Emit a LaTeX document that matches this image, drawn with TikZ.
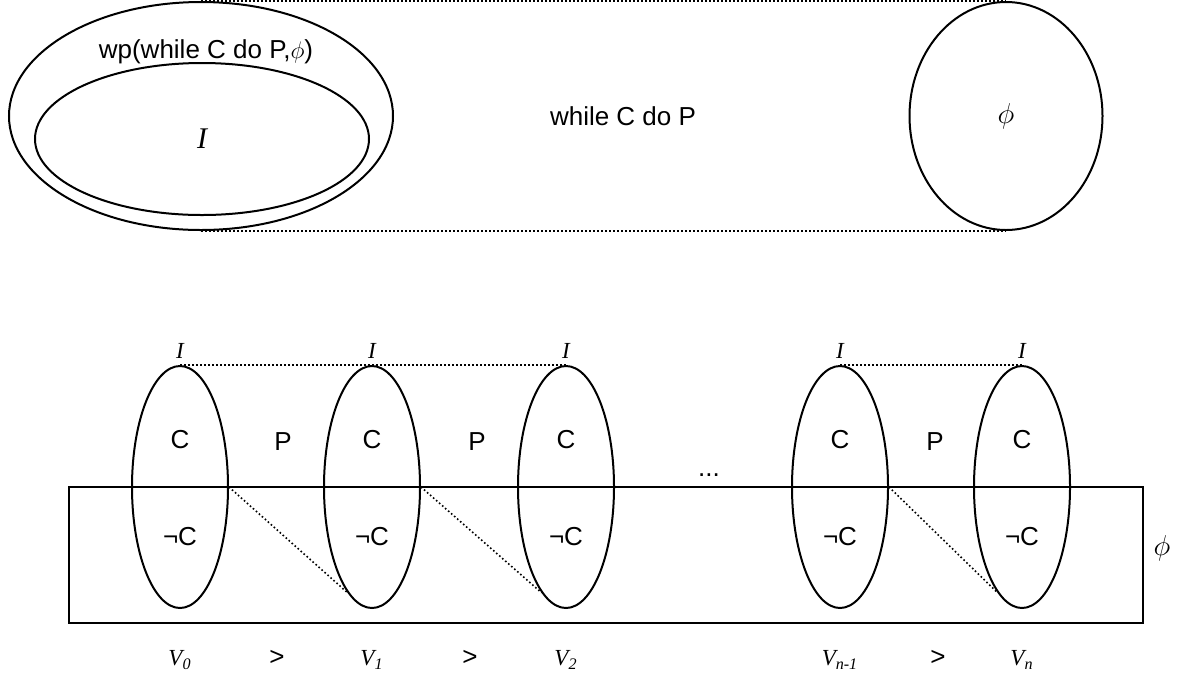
\documentclass[tikz,border=0pt]{standalone}
\usepackage{fontspec}
\setmainfont{Liberation Sans}
\newfontfamily\tms{Liberation Serif}
\usetikzlibrary{shapes.geometric,positioning}

\begin{document}
\begin{tikzpicture}[x=0.5pt,y=-0.5pt,
        conj/.style={draw,ellipse,line width=1pt,inner sep=0pt},
        pont/.style={line width=0.8pt,dash pattern=on 0.8pt off 1.2pt},
        rot/.style={font=\fontsize{13}{15}\selectfont,inner sep=0pt},
        var/.style={font=\fontsize{11.5}{14}\selectfont\tms\itshape,inner sep=0pt},
        simb/.style={font=\fontsize{14}{16}\selectfont,inner sep=0pt}]
      \useasboundingbox (0,0) rectangle (1177,676);
      % parte de cima
      \node[conj,minimum width=192pt,minimum height=114pt] (wp) at (201,116) {};
      \node[conj,minimum width=167pt,minimum height=76pt] (inv) at (202,139) {};
      \node[conj,minimum width=96.5pt,minimum height=114pt] (fi) at (1006,116) {};
      \draw[pont] (wp.north)--(fi.north); \draw[pont] (wp.south)--(fi.south);
      \node[rot] (twp) at (206,52) {wp(while C do P,$\phi$)};
      \node[var,font=\fontsize{15}{17}\selectfont\tms\itshape] (ti) at (inv) {I};
      \node[rot] (tlaco) at (623,116) {while C do P};
      \node[simb] (tfi) at (fi) {$\phi$};
      % parte de baixo
      \node[draw,line width=1pt,inner sep=0pt,minimum width=537pt,minimum height=68pt] (ret) at (606,555) {};
      \foreach \x/\n/\s in {180/1/0,372/2/1,566/3/2,840/4/n-1,1022/5/n} {
        \node[conj,minimum width=48pt,minimum height=121pt] (v\n) at (\x,487) {};
        \node[var,above=3pt of v\n.north] {I};
        \node[rot] at (\x,440) {C};
        \node[rot] at (\x,537) {¬C};
        \node[var] (tv\n) at (\x,660) {V\textsubscript{\s}};
      }
      \draw[pont] (v1.north)--(v3.north); \draw[pont] (v4.north)--(v5.north);
      \draw[pont] (v1.east)--(v2.257); \draw[pont] (v2.east)--(v3.257);
      \draw[pont] (v4.east)--(v5.257);
      \foreach \x in {283,477,935} \node[rot] at (\x,442) {P};
      \foreach \x in {277,470,938} \node[rot] at (\x,658) {>};
      \node[rot] (tpts) at (709,475) {...};
      \node[simb] (tret) at (1162,548) {$\phi$};
    \end{tikzpicture}
\end{document}
